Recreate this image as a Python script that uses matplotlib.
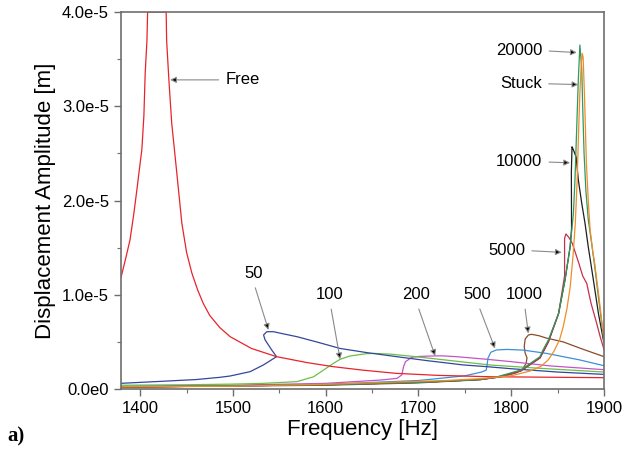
import matplotlib
matplotlib.use("Agg")
import matplotlib.pyplot as plt
from matplotlib.ticker import MultipleLocator

plt.rcParams['font.family'] = ['Liberation Sans', 'DejaVu Sans']

# ---- data (amplitude in units of 1e-5 m) ----
free_f = [1379.5, 1384, 1389, 1393, 1396.4, 1399, 1401.8, 1404, 1405.4, 1407.3, 1408,
          1428, 1428.5, 1431, 1434, 1439.5, 1444.9, 1450, 1455.7, 1462, 1467.9, 1475,
          1486, 1497, 1520, 1547, 1580, 1608, 1640, 1676, 1720, 1777, 1840, 1900]
free_a = [1.19, 1.37, 1.58, 1.85, 2.11, 2.32, 2.54, 2.9, 3.35, 3.70, 4.0,
          4.0, 3.70, 3.27, 2.82, 2.29, 1.76, 1.45, 1.23, 1.05, 0.91, 0.78,
          0.65, 0.555, 0.43, 0.343, 0.28, 0.237, 0.20, 0.166, 0.145, 0.13, 0.125, 0.12]

k50_f = [1379, 1420, 1460, 1486, 1497, 1518.5, 1532.8, 1547, 1541.8, 1534.7, 1533,
         1536.5, 1543.6, 1552, 1569, 1590, 1615.6, 1645, 1676.6, 1710, 1748.5, 1773.6,
         1800, 1850, 1900]
k50_a = [0.06, 0.08, 0.10, 0.124, 0.138, 0.184, 0.255, 0.343, 0.414, 0.52, 0.573,
         0.608, 0.608, 0.59, 0.555, 0.50, 0.43, 0.385, 0.343, 0.30, 0.255, 0.237,
         0.215, 0.18, 0.155]

k100_f = [1379, 1450, 1500, 1533, 1569, 1587, 1597.5, 1608, 1615.5, 1626, 1644,
          1652, 1669.5, 1690, 1712.6, 1745, 1777, 1830, 1900]
k100_a = [0.04, 0.045, 0.052, 0.06, 0.078, 0.13, 0.20, 0.27, 0.315, 0.35, 0.375,
          0.378, 0.37, 0.35, 0.326, 0.29, 0.255, 0.22, 0.18]

k200_f = [1379, 1500, 1600, 1659, 1677, 1682, 1684, 1686, 1692.8, 1700, 1712.6,
          1725, 1741, 1774, 1800, 1842, 1900]
k200_a = [0.03, 0.04, 0.06, 0.095, 0.113, 0.15, 0.24, 0.29, 0.336, 0.345, 0.35,
          0.352, 0.343, 0.315, 0.29, 0.245, 0.205]

k500_f = [1379, 1500, 1600, 1700, 1750, 1768, 1773, 1774, 1775, 1778, 1784,
          1795, 1812.7, 1838, 1874, 1900]
k500_a = [0.025, 0.035, 0.05, 0.09, 0.14, 0.18, 0.20, 0.26, 0.33, 0.39, 0.414,
          0.42, 0.413, 0.378, 0.308, 0.247]

k1000_f = [1379, 1600, 1700, 1760, 1790, 1805, 1812, 1816, 1817, 1815, 1814,
           1815, 1818.5, 1822, 1830, 1838, 1856, 1875, 1900]
k1000_a = [0.02, 0.04, 0.065, 0.095, 0.13, 0.17, 0.21, 0.27, 0.33, 0.38, 0.45,
           0.53, 0.573, 0.58, 0.565, 0.54, 0.50, 0.43, 0.343]

k5000_f = [1379, 1600, 1700, 1767, 1785, 1810, 1831, 1840, 1851, 1857.5, 1857.5,
           1859, 1862, 1865.8, 1869, 1873, 1877, 1881.4, 1886, 1892, 1896, 1900]
k5000_a = [0.02, 0.045, 0.07, 0.10, 0.125, 0.19, 0.33, 0.50, 0.80, 1.2, 1.6,
           1.645, 1.61, 1.545, 1.45, 1.33, 1.2, 1.12, 0.91, 0.70, 0.55, 0.42]

k10000_f = [1379, 1600, 1700, 1767, 1785, 1810, 1831, 1840, 1851, 1858, 1863.5,
            1865, 1864.8, 1865.5, 1866.5, 1870, 1872.3, 1876, 1879.5, 1883, 1888.5,
            1894, 1899.3, 1900]
k10000_a = [0.02, 0.045, 0.07, 0.10, 0.125, 0.19, 0.33, 0.50, 0.80, 1.16, 1.51,
            1.70, 2.30, 2.57, 2.55, 2.46, 2.22, 1.97, 1.76, 1.51, 1.16,
            0.80, 0.52, 0.50]

k20000_f = [1379, 1600, 1700, 1767, 1785, 1810, 1831, 1834, 1840, 1851, 1858,
            1863.5, 1867, 1868.7, 1870.5, 1872.3, 1874, 1876, 1877, 1878.5, 1880.5,
            1883, 1886.6, 1890, 1893.9, 1897.5, 1900]
k20000_a = [0.02, 0.045, 0.07, 0.10, 0.13, 0.20, 0.343, 0.41, 0.52, 0.80, 1.16,
            1.51, 1.86, 2.22, 2.75, 3.28, 3.65, 3.40, 3.0, 2.5, 2.1,
            1.8, 1.55, 1.3, 0.98, 0.70, 0.50]

stuck_f = [1379, 1500, 1600, 1680, 1730, 1767, 1800, 1820, 1832, 1840, 1846, 1852,
           1856, 1860, 1863.5, 1866.5, 1869, 1871, 1872.5, 1874, 1875.5, 1876.5,
           1877.5, 1879, 1881, 1883, 1885, 1888, 1890, 1894.5, 1897.8, 1900]
stuck_a = [0.025, 0.03, 0.05, 0.075, 0.09, 0.11, 0.14, 0.19, 0.24, 0.31, 0.40, 0.52,
           0.66, 0.85, 1.08, 1.40, 1.75, 2.2, 2.7, 3.15, 3.45, 3.56,
           3.52, 3.1, 2.4, 2.0, 1.69, 1.45, 1.33, 0.98, 0.70, 0.52]

x_ticks = [1400, 1500, 1600, 1700, 1800, 1900]
y_ticks = [0, 1, 2, 3, 4]
y_tick_labels = ["0.0e0", "1.0e-5", "2.0e-5", "3.0e-5", "4.0e-5"]

labels = ["Free", "50", "100", "200", "500", "1000", "5000", "10000", "Stuck", "20000"]
label_text_pos = [(1492, 3.28), (1521.8, 1.225), (1604.6, 1.0), (1697.8, 1.0),
                  (1763.4, 1.0), (1814, 1.0), (1794.9, 1.47), (1808.4, 2.41),
                  (1810.4, 3.24), (1808.4, 3.59)]
label_tip_pos = [(1432.3, 3.28), (1538.3, 0.626), (1615.5, 0.315), (1718, 0.35),
                 (1782.5, 0.43), (1818.4, 0.59), (1854.4, 1.45), (1863.4, 2.40),
                 (1872.3, 3.23), (1870.6, 3.57)]

# ---- figure ----
fig = plt.figure(figsize=(6.28, 4.57), dpi=100)
ax = fig.add_axes([0.1922, 0.1488, 0.7696, 0.8249])

lw = 0.9
series = [
    (k10000_f, k10000_a, '#1f1f1f'),
    (k1000_f, k1000_a, '#8b4a2b'),
    (k200_f, k200_a, '#c553c8'),
    (k100_f, k100_a, '#6cbf45'),
    (k500_f, k500_a, '#3d8fd8'),
    (k50_f, k50_a, '#34469c'),
    (free_f, free_a, '#e8232b'),
    (k5000_f, k5000_a, '#c5304c'),
    (k20000_f, k20000_a, '#2e9a5c'),
    (stuck_f, stuck_a, '#f28c28'),
]
for f, a, c in series:
    ax.plot(f, a, color=c, lw=lw, solid_joinstyle='round')

ax.set_xlim(1379, 1900)
ax.set_ylim(0, 4)
ax.set_xticks(x_ticks)
ax.xaxis.set_minor_locator(MultipleLocator(50))
ax.set_yticks(y_ticks)
ax.set_yticklabels(y_tick_labels)
ax.yaxis.set_minor_locator(MultipleLocator(0.5))

for s in ax.spines.values():
    s.set_color('#6e6e6e')
    s.set_linewidth(1.2)
ax.tick_params(which='both', direction='out', color='#6e6e6e', labelsize=12,
               labelcolor='black')
ax.tick_params(which='major', length=5, width=1)
ax.tick_params(which='minor', length=3, width=0.8)

ax.set_xlabel("Frequency [Hz]", fontsize=16, labelpad=2)
ax.set_ylabel("Displacement Amplitude [m]", fontsize=16, labelpad=4)

for i, (lab, tp, tip) in enumerate(zip(labels, label_text_pos, label_tip_pos)):
    if lab == "Free":
        ha, va, rel = 'left', 'center', (0, 0.5)
    elif lab in ("5000", "10000", "Stuck", "20000"):
        ha, va, rel = 'center', 'center', (1, 0.5)
    else:
        ha, va, rel = 'center', 'center', (0.5, 0)
    ax.annotate(lab, xy=tip, xytext=tp, ha=ha, va=va, fontsize=12,
                arrowprops=dict(arrowstyle='-|>', edgecolor='#8a8a8a',
                                facecolor='black', lw=0.8, mutation_scale=9,
                                shrinkA=3, shrinkB=0, relpos=rel))

fig.text(0.012, 0.045, "a)", fontsize=15, fontweight='bold',
         family=['Liberation Serif', 'DejaVu Serif'], ha='left', va='center')

fig.savefig("out.png", dpi=100)
